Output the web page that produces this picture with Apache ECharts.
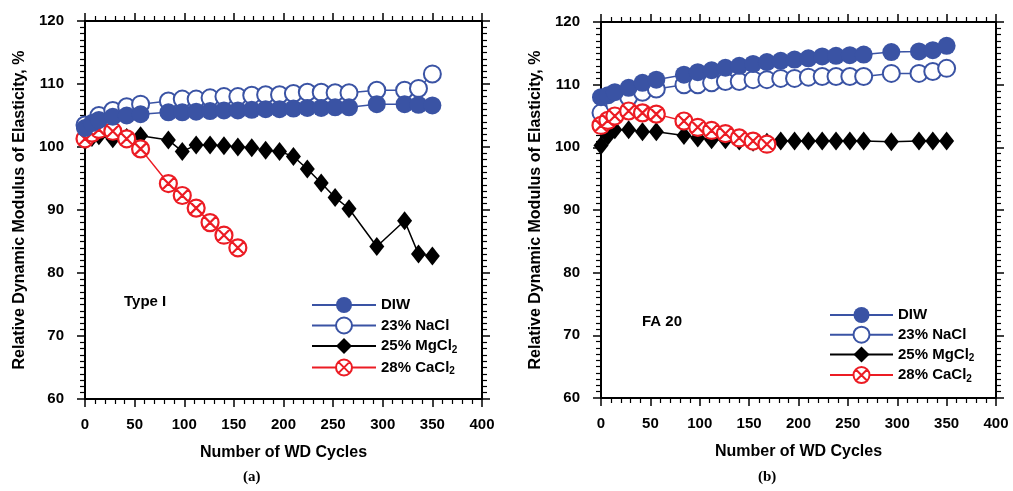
<!DOCTYPE html>
<html>
<head>
<meta charset="utf-8">
<script src="https://cdn.jsdelivr.net/npm/echarts/dist/echarts.min.js"></script>
<style>
html,body{margin:0;padding:0;background:#fff;}
#c{width:1013px;height:491px;}
</style>
</head>
<body>
<div id="c"></div>
<script>
// ---- Data: (a) Type I ----
const aDIWx = [0,7,14,28,42,56,84,98,112,126,140,154,168,182,196,210,224,238,252,266,294,322,336,350];
const aDIWy = [103.0,103.8,104.3,104.8,105.0,105.2,105.5,105.5,105.6,105.7,105.8,105.8,105.9,106.0,106.0,106.1,106.2,106.2,106.3,106.3,106.8,106.8,106.7,106.6];
const aNaClx = [0,14,28,42,56,84,98,112,126,140,154,168,182,196,210,224,238,252,266,294,322,336,350];
const aNaCly = [103.5,105.0,105.8,106.4,106.8,107.3,107.6,107.6,107.8,108.0,108.0,108.2,108.3,108.3,108.5,108.7,108.7,108.6,108.6,109.0,109.0,109.3,111.6];
const aMgx = [0,7,14,28,42,56,84,98,112,126,140,154,168,182,196,210,224,238,252,266,294,322,336,350];
const aMgy = [101.0,101.5,101.8,101.3,101.5,101.8,101.1,99.3,100.3,100.3,100.2,100.0,99.9,99.5,99.3,98.5,96.5,94.3,92.0,90.2,84.2,88.3,83.0,82.7];
const aCax = [0,7,14,28,42,56,84,98,112,126,140,154];
const aCay = [101.3,102.2,102.8,102.5,101.3,99.7,94.2,92.3,90.3,88.0,86.0,84.0];

// ---- Data: (b) FA 20 ----
const bDIWx = [0,7,14,28,42,56,84,98,112,126,140,154,168,182,196,210,224,238,252,266,294,322,336,350];
const bDIWy = [108.0,108.3,108.8,109.5,110.3,110.8,111.6,112.0,112.3,112.7,113.0,113.3,113.6,113.8,114.0,114.2,114.5,114.6,114.7,114.8,115.2,115.3,115.5,116.2];
const bNaClx = [0,14,28,42,56,84,98,112,126,140,154,168,182,196,210,224,238,252,266,294,322,336,350];
const bNaCly = [105.5,106.8,108.0,108.8,109.3,110.0,110.0,110.3,110.5,110.5,110.8,110.8,111.0,111.0,111.2,111.3,111.3,111.3,111.3,111.8,111.8,112.1,112.6];
const bMgx = [0,7,14,28,42,56,84,98,112,126,140,154,168,182,196,210,224,238,252,266,294,322,336,350];
const bMgy = [100.3,101.8,102.8,102.8,102.5,102.5,101.9,101.5,101.2,101.2,101.0,100.8,100.8,101.0,101.0,101.0,101.0,101.0,101.0,101.0,100.9,101.0,101.0,101.0];
const bCax = [0,7,14,28,42,56,84,98,112,126,140,154,168];
const bCay = [103.5,104.3,105.0,105.8,105.5,105.3,104.2,103.2,102.7,102.2,101.5,101.0,100.5];

const seriesNames = ['DIW', '23% NaCl', '25% MgCl2', '28% CaCl2'];
const panelLabels = ['Type I', 'FA 20'];
const xTitle = 'Number of WD Cycles';
const yTitle = 'Relative Dynamic Modulus of Elasticity, %';

const pair = (xs, ys) => xs.map((x, i) => [x, ys[i]]);

const FONT = "'Liberation Sans', Arial, sans-serif";
const BLUE = '#3a53a4';
const RED = '#ec1c24';
const crossCircle = 'path://M0,-10A10,10,0,1,1,0,10A10,10,0,1,1,0,-10ZM-7.07,-7.07L7.07,7.07M7.07,-7.07L-7.07,7.07';

const grids = [
  {left: 85, top: 21, width: 397, height: 378},
  {left: 601, top: 22, width: 395, height: 376}
];

function xAxes(gi) {
  const base = {
    gridIndex: gi, type: 'value', min: 0, max: 400, interval: 50,
    axisLine: {show: true, onZero: false, lineStyle: {color: '#000', width: 2}},
    axisTick: {show: true, length: 8, lineStyle: {color: '#000', width: 1.5}},
    minorTick: {show: true, splitNumber: 5, length: 5, lineStyle: {color: '#000', width: 1.2}},
    splitLine: {show: false}
  };
  return [
    Object.assign({}, base, {
      position: 'bottom',
      axisLabel: {show: true, margin: 18, color: '#000', fontFamily: FONT, fontWeight: 'bold', fontSize: 15},
      name: xTitle, nameLocation: 'middle', nameGap: 46,
      nameTextStyle: {color: '#000', fontFamily: FONT, fontWeight: 'bold', fontSize: 16}
    }),
    Object.assign({}, base, {position: 'top', axisLabel: {show: false}})
  ];
}
function yAxes(gi) {
  const base = {
    gridIndex: gi, type: 'value', min: 60, max: 120, interval: 10,
    axisLine: {show: true, onZero: false, lineStyle: {color: '#000', width: 2}},
    axisTick: {show: true, length: 8, lineStyle: {color: '#000', width: 1.5}},
    minorTick: {show: true, splitNumber: 10, length: 5, lineStyle: {color: '#000', width: 1.2}},
    splitLine: {show: false}
  };
  return [
    Object.assign({}, base, {
      position: 'left',
      axisLabel: {show: true, margin: 21, color: '#000', fontFamily: FONT, fontWeight: 'bold', fontSize: 15},
      name: yTitle, nameLocation: 'middle', nameGap: 57, nameRotate: 90,
      nameTextStyle: {color: '#000', fontFamily: FONT, fontWeight: 'bold', fontSize: 16}
    }),
    Object.assign({}, base, {position: 'right', axisLabel: {show: false}})
  ];
}

function makeSeries(ai, d) {
  const common = {type: 'line', xAxisIndex: ai, yAxisIndex: ai, z: 2};
  return [
    Object.assign({}, common, {
      name: seriesNames[1], data: d.nacl, symbol: 'emptyCircle', symbolSize: 17,
      lineStyle: {color: BLUE, width: 1.5},
      itemStyle: {color: BLUE, borderColor: BLUE, borderWidth: 3}
    }),
    Object.assign({}, common, {
      name: seriesNames[2], data: d.mg, symbol: 'diamond', symbolSize: [15, 19],
      lineStyle: {color: '#000', width: 1.5},
      itemStyle: {color: '#000'}
    }),
    Object.assign({}, common, {
      name: seriesNames[3], data: d.ca, symbol: crossCircle, symbolSize: 17, symbolKeepAspect: true,
      lineStyle: {color: RED, width: 1.5},
      itemStyle: {color: '#fff', borderColor: RED, borderWidth: 2.2}
    }),
    Object.assign({}, common, {
      name: seriesNames[0], data: d.diw, symbol: 'circle', symbolSize: 18,
      lineStyle: {color: BLUE, width: 1.5},
      itemStyle: {color: BLUE}
    })
  ];
}

const legendText = {
  color: '#000', fontFamily: FONT, fontWeight: 'bold', fontSize: 15,
  rich: {s: {fontFamily: FONT, fontWeight: 'bold', fontSize: 10, padding: [8, 0, 0, 0], verticalAlign: 'bottom'}}
};
function legendFmt(name) { return name.replace(/Cl2$/, 'Cl{s|2}'); }

const chart = echarts.init(document.getElementById('c'), null, {renderer: 'canvas'});
chart.setOption({
  animation: false,
  backgroundColor: '#fff',
  grid: grids,
  xAxis: [].concat(xAxes(0), xAxes(1)),
  yAxis: [].concat(yAxes(0), yAxes(1)),
  legend: [
    {data: seriesNames, orient: 'vertical', left: 306, top: 292, itemWidth: 64, itemHeight: 20, itemGap: 3.5,
     textStyle: legendText, formatter: legendFmt, selectedMode: false},
    {data: seriesNames, orient: 'vertical', left: 824, top: 302, itemWidth: 63, itemHeight: 20, itemGap: 2.7,
     textStyle: legendText, formatter: legendFmt, selectedMode: false}
  ],
  graphic: [
    {type: 'text', left: 124, top: 294, style: {text: panelLabels[0], fill: '#000', font: "bold 15px 'Liberation Sans', Arial"}},
    {type: 'text', left: 642, top: 314, style: {text: panelLabels[1], fill: '#000', font: "bold 15px 'Liberation Sans', Arial"}},
    {type: 'text', left: 243, top: 470, style: {text: '(a)', fill: '#000', font: "bold 15px 'Liberation Serif', 'Times New Roman', serif"}},
    {type: 'text', left: 758, top: 470, style: {text: '(b)', fill: '#000', font: "bold 15px 'Liberation Serif', 'Times New Roman', serif"}}
  ],
  series: [].concat(
    makeSeries(0, {diw: pair(aDIWx, aDIWy), nacl: pair(aNaClx, aNaCly), mg: pair(aMgx, aMgy), ca: pair(aCax, aCay)}),
    makeSeries(2, {diw: pair(bDIWx, bDIWy), nacl: pair(bNaClx, bNaCly), mg: pair(bMgx, bMgy), ca: pair(bCax, bCay)})
  )
});
</script>
</body>
</html>
